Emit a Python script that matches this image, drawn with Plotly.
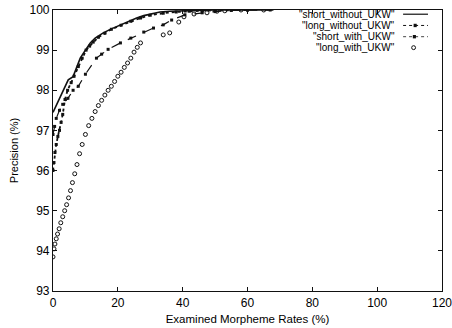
import plotly.graph_objects as go

# ---- data ----
sw_x = [0, 1, 2, 3, 4, 4.7, 6.2, 7, 8.4, 10, 11.5, 13, 15.5, 18, 20.8, 23, 25.8, 28, 31, 33, 36, 40, 45, 50, 56, 62, 68]
sw_y = [97.45, 97.62, 97.8, 97.98, 98.14, 98.26, 98.34, 98.5, 98.8, 99.0, 99.18, 99.3, 99.43, 99.53, 99.63, 99.72, 99.8, 99.86, 99.92, 99.95, 99.97, 99.98, 99.99, 100, 100, 100, 100]

lw_x = [0, 0.5, 1, 2, 3, 4.6, 6.2, 7.8, 10, 13.4, 15, 17, 20.8, 24, 28, 31, 34, 36.6, 40.7, 46, 50, 55, 60, 67]
lw_y = [96.9, 97.1, 97.3, 97.5, 97.65, 97.8, 98.0, 98.1, 98.4, 98.8, 98.9, 99.02, 99.18, 99.3, 99.45, 99.55, 99.63, 99.75, 99.88, 99.93, 99.96, 99.99, 100, 100]

sk_x = [0, 0.3, 0.6, 1, 1.5, 2, 2.5, 3, 3.7, 4.5, 5.6, 6.5, 7.8, 9, 10.2, 11.3, 12.4, 14, 16, 18, 21, 24, 27, 30, 34, 38, 42, 46, 50, 55, 60]
sk_y = [96.0, 96.2, 96.45, 96.65, 96.85, 97.0, 97.2, 97.4, 97.77, 98.0, 98.19, 98.35, 98.59, 98.8, 99.0, 99.1, 99.2, 99.32, 99.42, 99.52, 99.62, 99.72, 99.8, 99.87, 99.92, 99.95, 99.97, 99.98, 99.99, 100, 100]

lk_x = [0, 0.3, 0.6, 1.0, 1.4, 1.9, 2.4, 3.0, 3.6, 4.2, 4.8, 5.4, 6.0, 6.7, 7.4, 8.2, 9.0, 10, 11, 12, 13, 14, 15, 16, 17, 18, 19, 20, 21, 22, 23, 24, 25, 26, 27,
        34, 36, 38.8, 40.4, 43.5, 47.5, 50.6, 53, 58, 65]
lk_y = [93.85, 94.05, 94.17, 94.3, 94.42, 94.55, 94.7, 94.85, 95.0, 95.15, 95.32, 95.5, 95.7, 95.92, 96.15, 96.42, 96.65, 96.9, 97.12, 97.3, 97.47, 97.62, 97.75, 97.88, 98.0, 98.1, 98.22, 98.35, 98.45, 98.57, 98.68, 98.8, 98.95, 99.07, 99.18,
        99.38, 99.43, 99.7, 99.83, 99.9, 99.93, 99.97, 99.98, 100, 100]

names = ['"short_without_UKW"', '"long_without_UKW"', '"short_with_UKW"', '"long_with_UKW"']
x_ticks = [0, 20, 40, 60, 80, 100, 120]
y_ticks = [93, 94, 95, 96, 97, 98, 99, 100]

FONT = "Liberation Sans, Arial, sans-serif"
ink = "#111111"

fig = go.Figure()
fig.add_trace(go.Scatter(x=sw_x, y=sw_y, mode="lines", line=dict(color=ink, width=1.6), name=names[0]))
fig.add_trace(go.Scatter(x=lw_x, y=lw_y, mode="lines+markers", line=dict(color=ink, width=1.2, dash="dash"),
                         marker=dict(symbol="square", size=3, color=ink), name=names[1]))
fig.add_trace(go.Scatter(x=sk_x, y=sk_y, mode="lines+markers", line=dict(color=ink, width=1.8, dash="dot"),
                         marker=dict(symbol="square", size=3, color=ink), name=names[2]))
fig.add_trace(go.Scatter(x=lk_x, y=lk_y, mode="markers",
                         marker=dict(symbol="circle-open", size=4, color=ink, line=dict(width=1)), name=names[3]))

# legend drawn gnuplot-style (text right-aligned, sample on the right)
rows_y = [0.985, 0.945, 0.905, 0.866]
for i, (nm, yy) in enumerate(zip(names, rows_y)):
    fig.add_annotation(xref="paper", yref="paper", x=0.885, y=yy, text=nm, showarrow=False,
                       xanchor="right", yanchor="middle", font=dict(family=FONT, size=10, color="#000000"))
x0s, x1s = 0.9, 0.964
fig.add_shape(type="line", xref="paper", yref="paper", x0=x0s, x1=x1s, y0=rows_y[0], y1=rows_y[0],
              line=dict(color=ink, width=1.2))
fig.add_shape(type="line", xref="paper", yref="paper", x0=x0s, x1=x1s, y0=rows_y[1], y1=rows_y[1],
              line=dict(color=ink, width=1, dash="dot"))
fig.add_shape(type="rect", xref="paper", yref="paper", x0=0.927, x1=0.935, y0=rows_y[1]-0.006, y1=rows_y[1]+0.006,
              line=dict(width=0), fillcolor=ink)
fig.add_shape(type="line", xref="paper", yref="paper", x0=x0s, x1=x1s, y0=rows_y[2], y1=rows_y[2],
              line=dict(color="#444", width=1, dash="dot"))
fig.add_shape(type="rect", xref="paper", yref="paper", x0=0.925, x1=0.933, y0=rows_y[2]-0.006, y1=rows_y[2]+0.006,
              line=dict(width=0), fillcolor=ink)
fig.add_shape(type="circle", xref="paper", yref="paper", x0=0.922, x1=0.932, y0=rows_y[3]-0.007, y1=rows_y[3]+0.007,
              line=dict(color=ink, width=1))

axis_common = dict(showgrid=False, zeroline=False, showline=True, linecolor=ink, linewidth=1.2, mirror="ticks",
                   ticks="inside", ticklen=4, tickcolor=ink, ticklabeloverflow="allow", automargin=False,
                   tickfont=dict(family=FONT, size=12, color="#000000"))
fig.update_xaxes(range=[0, 120], tickvals=x_ticks, ticktext=[str(v) for v in x_ticks],
                 title=dict(text="Examined Morpheme Rates (%)", font=dict(family=FONT, size=11.5, color="#000000"), standoff=6),
                 **axis_common)
fig.update_yaxes(range=[93, 100], tickvals=y_ticks, ticktext=[str(v) for v in y_ticks],
                 title=dict(text="Precision (%)", font=dict(family=FONT, size=11, color="#000000"), standoff=8),
                 **axis_common)

fig.update_layout(width=452, height=328, margin=dict(l=53, r=10, t=10, b=37),
                  paper_bgcolor="white", plot_bgcolor="white", showlegend=False,
                  font=dict(family=FONT, color=ink))
fig.write_html("out.html", config={"displayModeBar": False},
               post_script="document.body.style.margin='0';document.body.style.overflow='hidden';")
